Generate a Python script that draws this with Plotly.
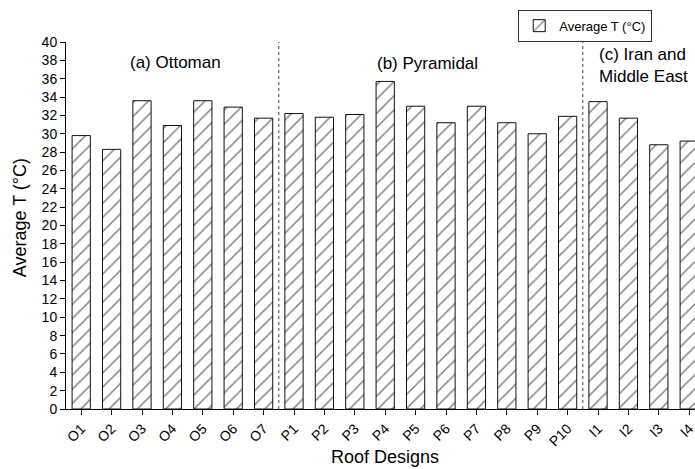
import plotly.graph_objects as go

categories = ["O1", "O2", "O3", "O4", "O5", "O6", "O7",
              "P1", "P2", "P3", "P4", "P5", "P6", "P7", "P8", "P9", "P10",
              "I1", "I2", "I3", "I4"]
avg_t = [29.8, 28.3, 33.6, 30.9, 33.6, 32.9, 31.7,
         32.2, 31.8, 32.1, 35.7, 33.0, 31.2, 33.0, 31.2, 30.0, 31.9,
         33.5, 31.7, 28.8, 29.2]
y_ticks = list(range(0, 41, 2))
group_labels = ["(a) Ottoman", "(b) Pyramidal", "(c) Iran and<br>Middle East"]
group_label_x = [3.09, 11.39, 16.97]
group_label_y = [37.8, 37.7, 37.4]
separators = [6.5, 16.5]

FONT = "Liberation Sans, Arial, sans-serif"
xs = list(range(len(categories)))

fig = go.Figure()
fig.add_trace(go.Bar(
    x=xs, y=avg_t, width=0.6, name="Average T (°C)",
    marker=dict(color="white",
                line=dict(color="#111", width=1),
                pattern=dict(shape="/", fgcolor="black", bgcolor="white",
                             size=10, solidity=0.15)),
))

for sx in separators:
    fig.add_shape(type="line", x0=sx, x1=sx, y0=0, y1=40, xref="x", yref="y",
                  line=dict(color="#444", width=1, dash="dot"))

for txt, gx, gy, anc in zip(group_labels, group_label_x, group_label_y,
                            ["center", "center", "left"]):
    fig.add_annotation(text=txt, x=gx, y=gy, xref="x", yref="y",
                       xanchor=anc, yanchor="middle", showarrow=False,
                       align="left", font=dict(family=FONT, size=17, color="black"))

fig.add_annotation(text="Roof Designs", x=0.507, y=-0.130, xref="paper", yref="paper",
                   xanchor="center", yanchor="middle", showarrow=False,
                   font=dict(family=FONT, size=18, color="black"))
fig.add_annotation(text="Average T (°C)", x=-0.073, y=0.52, xref="paper", yref="paper",
                   textangle=-90, xanchor="center", yanchor="middle", showarrow=False,
                   font=dict(family=FONT, size=18, color="black"))

fig.update_layout(
    width=695, height=469,
    margin=dict(l=66, r=0, t=42, b=60, autoexpand=False),
    paper_bgcolor="white", plot_bgcolor="white",
    font=dict(family=FONT, color="black"),
    showlegend=True,
    legend=dict(x=0.932, y=1.088, xanchor="right", yanchor="top",
                bordercolor="#333", borderwidth=1, bgcolor="white",
                font=dict(family=FONT, size=13, color="black")),
    bargap=0.4,
)
fig.update_xaxes(
    range=[-0.5, 20.19], tickmode="array", tickvals=xs, ticktext=categories,
    tickangle=-45, ticks="outside", ticklen=5, tickcolor="black", automargin=False,
    ticklabeloverflow="allow",
    showline=True, linecolor="black", linewidth=1, showgrid=False, zeroline=False,
    tickfont=dict(family=FONT, size=14, color="black"),
)
fig.update_yaxes(
    range=[0, 40], tickmode="array", tickvals=y_ticks, automargin=False,
    ticks="outside", ticklen=5, tickcolor="black",
    showline=True, linecolor="black", linewidth=1, showgrid=False, zeroline=False,
    tickfont=dict(family=FONT, size=14, color="black"),
)

fig.write_html("out.html",
               config={"displayModeBar": False},
               post_script="document.body.style.margin='0';"
                           "document.body.style.overflow='hidden';")
